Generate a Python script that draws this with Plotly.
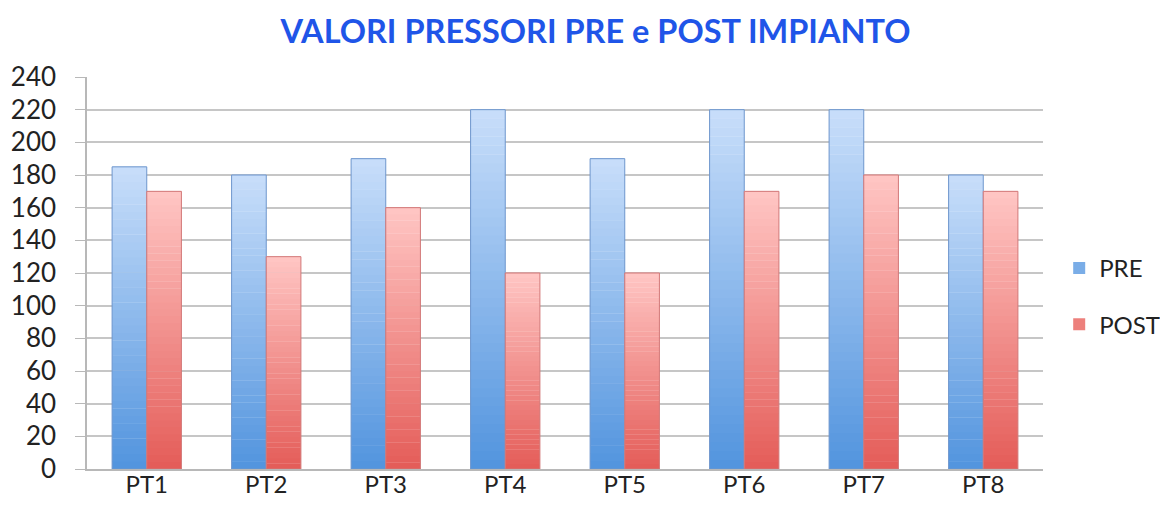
import plotly.graph_objects as go

categories = ["PT1", "PT2", "PT3", "PT4", "PT5", "PT6", "PT7", "PT8"]
pre_values = [185, 180, 190, 220, 190, 220, 220, 180]
post_values = [170, 130, 160, 120, 120, 170, 180, 170]
y_ticks = list(range(0, 241, 20))

N = 40

def lerp(c1, c2, t):
    return "rgb(%d,%d,%d)" % tuple(round(a + (b - a) * t) for a, b in zip(c1, c2))

series = [
    ("PRE", pre_values, (82, 148, 222), (200, 222, 250), "rgb(110,150,205)"),
    ("POST", post_values, (228, 92, 88), (255, 198, 196), "rgb(210,120,120)"),
]

fig = go.Figure()
for name, vals, bottom, top, edge in series:
    for k in range(N):
        t = (k + 0.5) / N
        fig.add_trace(go.Bar(
            x=categories,
            y=[v / N * 1.05 for v in vals],
            base=[v * k / N for v in vals],
            offsetgroup=name,
            legendgroup=name,
            name=name,
            showlegend=(k == N // 3),
            marker=dict(color=lerp(bottom, top, t), line=dict(width=0)),
            hoverinfo="skip",
        ))
    fig.add_trace(go.Bar(
        x=categories,
        y=vals,
        offsetgroup=name,
        legendgroup=name,
        name=name,
        showlegend=False,
        marker=dict(color="rgba(0,0,0,0)", line=dict(width=1, color=edge)),
    ))

fig.update_layout(
    width=1168, height=522,
    margin=dict(l=79, r=133, t=69, b=61),
    paper_bgcolor="white", plot_bgcolor="white",
    barmode="group", bargap=0.42, bargroupgap=0,
    title=dict(text="<b>VALORI PRESSORI PRE e POST IMPIANTO</b>",
               x=0.503, xanchor="center", y=0.954, yanchor="middle",
               font=dict(family="Lato, Open Sans, sans-serif", size=32.5, color="#1f55e8")),
    font=dict(family="Lato, Open Sans, sans-serif", color="#222222"),
    legend=dict(xref="container", x=0.9, xanchor="left", y=0.44, yanchor="middle",
                font=dict(size=24), tracegroupgap=22, itemwidth=30),
    showlegend=True,
)
fig.update_yaxes(range=[0, 240], tickvals=y_ticks, showgrid=True, gridcolor="#c6c6c6", gridwidth=1.5,
                 showline=True, linecolor="#b8b8b8", linewidth=1.5, ticks="outside", ticklen=10,
                 tickcolor="#b8b8b8", tickfont=dict(size=26, color="#222222"), zeroline=False,
                 ticklabelstandoff=14, automargin=False)
fig.update_xaxes(showline=True, linecolor="#b8b8b8", linewidth=1.5, ticks="",
                 tickfont=dict(size=24, color="#222222"), ticklabelstandoff=-7, automargin=False)

fig.write_html("out.html")
